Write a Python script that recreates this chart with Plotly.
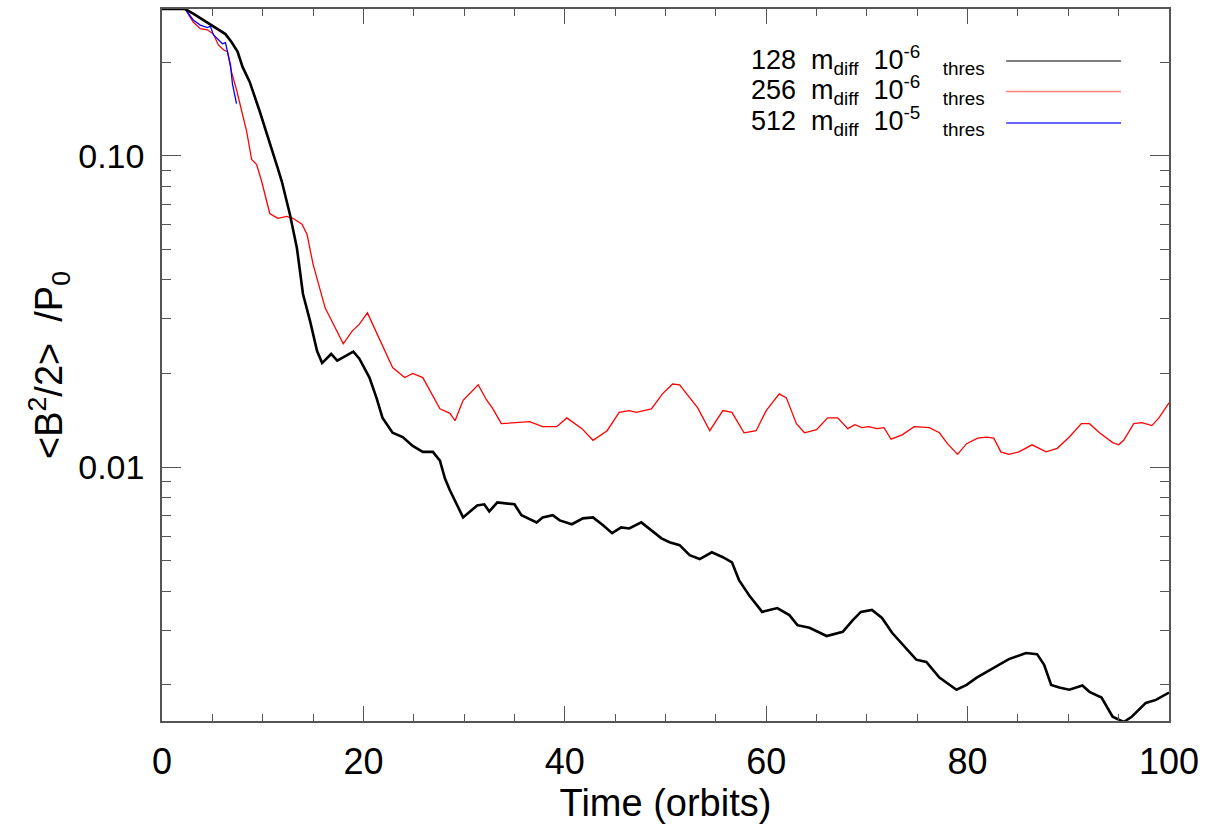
"""Magnetic energy decay for three resolutions"""

import plotly.graph_objects as go

# time in orbits and <B^2/2>/P0
black_t = [0, 2.3, 3.1, 4.1, 5.5, 6.3, 6.9, 7.5, 8.0, 8.7, 9.7, 10.7, 11.5, 11.9, 12.7, 13.4, 14.0, 14.7,
           15.4, 15.9, 16.8, 17.4, 19.0, 19.6, 20.6, 21.3, 21.9, 22.9, 23.9, 24.9, 25.9, 26.9, 27.6, 28.1,
           28.6, 29.9, 31.3, 32.0, 32.5, 33.3, 35.0, 35.7, 37.2, 37.8, 38.8, 39.5, 40.7, 41.8, 42.8, 43.8,
           44.7, 45.6, 46.4, 47.6, 48.6, 49.6, 50.4, 51.4, 52.4, 53.4, 54.6, 55.7, 56.6, 57.3, 58.3, 59.6,
           61.1, 62.3, 63.1, 64.3, 66.0, 67.6, 68.6, 69.4, 70.5, 71.5, 72.5, 73.9, 74.9, 75.9, 77.2, 78.9,
           79.9, 80.9, 82.4, 84.1, 85.8, 86.9, 87.6, 88.3, 89.1, 90.1, 91.4, 92.1, 93.3, 94.4, 95.5, 96.3,
           97.7, 98.7, 100]
black_v = [0.296, 0.296, 0.286, 0.273, 0.256, 0.246, 0.232, 0.216, 0.193, 0.173, 0.139, 0.111, 0.0911,
           0.0827, 0.0649, 0.0505, 0.0360, 0.0295, 0.0236, 0.0216, 0.0231, 0.0220, 0.0235, 0.0223, 0.0194,
           0.0167, 0.0144, 0.0129, 0.0125, 0.0117, 0.0112, 0.0112, 0.0105, 0.0092, 0.00842, 0.00690,
           0.00754, 0.00760, 0.00721, 0.00771, 0.00760, 0.00701, 0.00665, 0.00690, 0.00701, 0.00675,
           0.00656, 0.00685, 0.00690, 0.00651, 0.00614, 0.00641, 0.00636, 0.00665, 0.00627, 0.00591,
           0.00574, 0.00562, 0.00522, 0.00507, 0.00533, 0.00514, 0.00495, 0.00434, 0.00388, 0.00343,
           0.00353, 0.00335, 0.00311, 0.00305, 0.00287, 0.00296, 0.00323, 0.00343, 0.00348, 0.00328,
           0.00294, 0.00263, 0.00241, 0.00237, 0.00211, 0.00193, 0.00200, 0.00211, 0.00225, 0.00242,
           0.00253, 0.00251, 0.00232, 0.00200, 0.00196, 0.00193, 0.00199, 0.00190, 0.00182, 0.00158,
           0.00152, 0.00158, 0.00175, 0.00179, 0.00189]

red_t = [0, 2.3, 3.1, 3.8, 4.5, 5.1, 5.6, 6.1, 6.5, 6.9, 7.4, 7.9, 8.4, 8.9, 9.4, 9.9, 10.7, 11.5, 12.4,
         13.0, 13.9, 14.4, 15.0, 16.2, 17.4, 18.0, 18.9, 19.6, 20.4, 21.3, 22.9, 24.1, 24.9, 25.9, 27.6,
         28.6, 29.1, 29.9, 31.4, 32.2, 32.8, 33.7, 35.2, 36.5, 37.8, 39.2, 40.2, 41.0, 41.7, 42.8, 44.2,
         45.4, 46.4, 47.1, 48.6, 49.7, 50.7, 51.4, 52.4, 53.2, 54.4, 55.7, 56.6, 57.8, 59.0, 60.0, 61.3,
         62.0, 63.0, 63.8, 65.0, 66.1, 67.1, 68.1, 68.8, 69.5, 70.2, 71.0, 71.7, 72.4, 73.5, 74.7, 76.2,
         77.2, 78.0, 79.0, 79.9, 81.0, 81.9, 82.6, 83.3, 84.1, 85.1, 86.4, 87.8, 88.9, 90.1, 91.3, 92.1,
         93.1, 94.4, 95.0, 95.5, 96.5, 97.3, 98.3, 99.0, 100]
red_v = [0.296, 0.296, 0.269, 0.256, 0.254, 0.246, 0.227, 0.219, 0.216, 0.186, 0.163, 0.139, 0.120,
         0.0973, 0.0938, 0.0827, 0.0653, 0.0630, 0.0639, 0.0630, 0.0603, 0.0560, 0.0449, 0.0325, 0.0270,
         0.0249, 0.0274, 0.0288, 0.0313, 0.0270, 0.0209, 0.0194, 0.0200, 0.0194, 0.0154, 0.0149, 0.0141,
         0.0164, 0.0184, 0.0165, 0.0155, 0.0138, 0.0139, 0.0140, 0.0135, 0.0135, 0.0144, 0.0138, 0.0133,
         0.0122, 0.0131, 0.0150, 0.0152, 0.0150, 0.0154, 0.0172, 0.0185, 0.0184, 0.0167, 0.0155, 0.0131,
         0.0152, 0.0150, 0.0129, 0.0131, 0.0152, 0.0172, 0.0167, 0.0138, 0.0129, 0.0132, 0.0144, 0.0144,
         0.0133, 0.0137, 0.0134, 0.0135, 0.0133, 0.0134, 0.0123, 0.0127, 0.0135, 0.0134, 0.0129, 0.0119,
         0.0110, 0.0119, 0.0124, 0.0125, 0.0124, 0.0112, 0.0110, 0.0112, 0.0118, 0.0112, 0.0115, 0.0125,
         0.0138, 0.0138, 0.0129, 0.0120, 0.0118, 0.0122, 0.0138, 0.0139, 0.0136, 0.0144, 0.0161]

blue_t = [0, 2.3, 3.1, 3.8, 4.5, 4.8, 5.1, 5.6, 6.0, 6.3, 6.5, 6.8, 7.0, 7.4]
blue_v = [0.296, 0.296, 0.273, 0.263, 0.258, 0.261, 0.245, 0.236, 0.229, 0.231, 0.216, 0.196, 0.170, 0.147]

labels = ["128", "256", "512"]
exponents = ["-6", "-6", "-5"]
line_colors = ["#000000", "#ff0000", "#0000ff"]
legend_line_colors = ["#555555", "#ff8080", "#3333ff"]

y_major = [0.01, 0.1]
y_major_text = ["0.01", "0.10"]
y_minor = [m * 10.0 ** e for e in (-3, -2, -1) for m in range(2, 10)]

FONT = "Liberation Sans, Arial, sans-serif"
AXIS_COLOR = "#555555"

fig = go.Figure()
fig.add_trace(go.Scatter(x=red_t, y=red_v, mode="lines", line=dict(color=line_colors[1], width=1.3)))
fig.add_trace(go.Scatter(x=blue_t, y=blue_v, mode="lines", line=dict(color=line_colors[2], width=1.3)))
fig.add_trace(go.Scatter(x=black_t, y=black_v, mode="lines", line=dict(color=line_colors[0], width=2.6)))

# legend: text on the left, line sample on the right
row_y = [0.929, 0.886, 0.842]
line_y = [0.927, 0.884, 0.840]
for lab, ex, col, ty, ly in zip(labels, exponents, legend_line_colors, row_y, line_y):
    fig.add_annotation(
        x=0.8194, y=ty, xref="paper", yref="paper", xanchor="right", yanchor="middle",
        text=f"{lab}  m<sub>diff</sub>  10<sup>{ex}</sup>   <sub>thres</sub>",
        showarrow=False, font=dict(size=27, color="#000000", family=FONT),
    )
    fig.add_shape(
        type="line", xref="paper", yref="paper", x0=0.8383, x1=0.9524, y0=ly, y1=ly,
        line=dict(color=col, width=1.5),
    )

fig.update_layout(
    width=1206,
    height=824,
    paper_bgcolor="white",
    plot_bgcolor="white",
    showlegend=False,
    margin=dict(l=162, r=36, t=7, b=103),
    font=dict(family=FONT, color="#000000"),
    xaxis=dict(
        range=[0, 100],
        tickmode="linear", tick0=0, dtick=20,
        ticks="inside", ticklen=15, tickwidth=1, tickcolor=AXIS_COLOR,
        minor=dict(dtick=5, ticks="inside", ticklen=7, tickcolor=AXIS_COLOR, tickwidth=1),
        showline=True, linecolor=AXIS_COLOR, linewidth=1.5, mirror="ticks",
        showgrid=False, zeroline=False,
        tickfont=dict(size=36),
        ticklabelstandoff=8,
        title=dict(text="Time (orbits)", font=dict(size=38), standoff=0),
    ),
    yaxis=dict(
        type="log",
        range=[-2.815, -0.5285],
        tickmode="array", tickvals=y_major, ticktext=y_major_text,
        ticks="inside", ticklen=19, tickwidth=1, tickcolor=AXIS_COLOR,
        minor=dict(tickmode="array", tickvals=y_minor, ticks="inside", ticklen=9,
                   tickcolor=AXIS_COLOR, tickwidth=1),
        showline=True, linecolor=AXIS_COLOR, linewidth=1.5, mirror="ticks",
        showgrid=False, zeroline=False,
        tickfont=dict(size=34),
        ticklabelstandoff=9,
        title=dict(text="&lt;B<sup>2</sup>/2&gt;  /P<sub>0</sub>", font=dict(size=38), standoff=4),
    ),
)

fig.write_html(
    "out.html",
    config={"displayModeBar": False},
    post_script="document.body.style.margin='0';",
)
